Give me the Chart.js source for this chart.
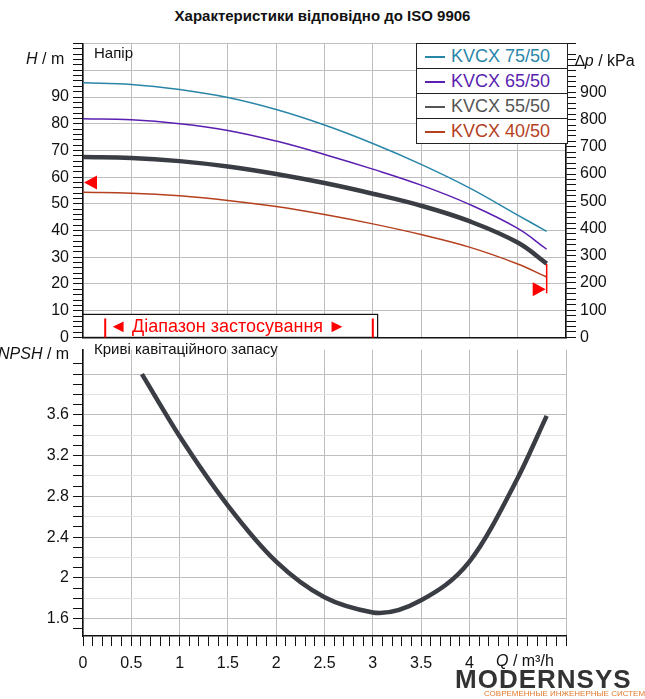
<!DOCTYPE html>
<html><head><meta charset="utf-8">
<script src="https://cdn.jsdelivr.net/npm/chart.js@4"></script>
<style>
body{margin:0;width:645px;height:699px;background:#fff;font-family:"Liberation Sans",Arial,sans-serif;position:relative;overflow:hidden}
canvas{position:absolute;left:0}
.t{position:absolute;white-space:nowrap;color:#111}
#legend{position:absolute;left:416px;top:43px;width:150px;border:1px solid #222;background:#fff}
#legend div{height:24px;border-bottom:1px solid #222;font-size:18px;line-height:24px;padding-left:8px}
#legend div:last-child{border-bottom:none}
#legend span{display:inline-block;width:20px;height:2px;vertical-align:middle;margin-right:6px}
</style></head><body>
<div class="t" style="left:0;width:645px;text-align:center;top:7px;font-size:15px;font-weight:bold">Характеристики відповідно до ISO 9906</div>
<canvas id="top" width="645" height="321" style="top:30px"></canvas>
<canvas id="bottom" width="645" height="363" style="top:336px"></canvas>
<div class="t" style="left:26px;top:50px;font-size:16px"><i>H</i> / m</div>
<div class="t" style="left:575px;top:52px;font-size:16px">∆<i>p</i> / kPa</div>
<div class="t" style="left:94px;top:44px;font-size:15px">Напір</div>
<div class="t" style="left:-2px;top:345px;font-size:16px"><i>NPSH</i> / m</div>
<div class="t" style="left:94px;top:340px;font-size:15px">Криві кавітаційного запасу</div>
<div class="t" style="left:496px;top:652px;font-size:16px"><i>Q</i> / m³/h</div>
<div class="t" style="left:455px;top:664px;font-size:26px;font-weight:bold;color:#333;letter-spacing:1px">MODERNSYS</div>
<div class="t" style="left:484px;top:689px;font-size:8px;color:#e07a2a">СОВРЕМЕННЫЕ ИНЖЕНЕРНЫЕ СИСТЕМЫ</div>
<div id="legend">
<div style="color:#2a86a8"><span style="background:#2a86a8"></span>KVCX 75/50</div>
<div style="color:#5a1fb0"><span style="background:#5a1fb0"></span>KVCX 65/50</div>
<div style="color:#555"><span style="background:#555"></span>KVCX 55/50</div>
<div style="color:#b5401e"><span style="background:#b5401e"></span>KVCX 40/50</div>
</div>
<script>
const flow = [0, 0.5, 1, 1.5, 2, 2.5, 3, 3.5, 4, 4.5, 4.8];
const headCurves = [
  { label: "KVCX 75/50", color: "#2a86a8", width: 1.5, data: [95.3, 94.7, 92.8, 89.8, 85.3, 79.5, 72.6, 64.8, 56, 45.8, 39.7] },
  { label: "KVCX 65/50", color: "#5a1fb0", width: 1.5, data: [81.9, 81.5, 80, 77.5, 73.5, 68.5, 63, 57, 49.8, 40.8, 33] },
  { label: "KVCX 55/50", color: "#3a3d44", width: 4.5, data: [67.5, 67.2, 66, 64, 61.2, 57.8, 53.8, 49.3, 43.5, 35.5, 27.6] },
  { label: "KVCX 40/50", color: "#b5401e", width: 1.5, data: [54.3, 54, 53, 51.3, 49, 46, 42.5, 38.5, 33.8, 27.5, 22.6] },
];
const npsh = [
  [0.61, 4.0], [1, 3.39], [1.5, 2.71], [2, 2.16], [2.5, 1.81], [3, 1.66], [3.07, 1.655],
  [3.5, 1.78], [4, 2.16], [4.5, 2.98], [4.8, 3.59],
];
const font = { family: "Liberation Sans, Arial", size: 16 };
const r10 = v => Math.round(v * 100) / 100;

function xScale(showLabels) {
  return {
    type: "linear", min: 0, max: 5,
    afterFit: s => { s.height = showLabels ? 63 : 0; },
    border: { color: "#111", width: 1.5 },
    ticks: {
      stepSize: 0.1, autoSkip: false, maxRotation: 0, color: "#111", font, padding: 8,
      display: showLabels,
      callback: v => { const q = r10(v); return (Math.abs(q * 2 - Math.round(q * 2)) < 1e-6 && q <= 4) ? String(q) : ""; },
    },
    grid: {
      tickLength: showLabels ? 10 : 0, tickColor: "#111", drawTicks: showLabels,
      color: c => { const q = r10(c.tick.value); if (Math.abs(q * 2 - Math.round(q * 2)) < 1e-6) return "#bdbdbd"; if (Math.abs(q * 4 - Math.round(q * 4)) < 1e-6) return "#e2e2e2"; return "rgba(0,0,0,0)"; },
    },
  };
}

const markers = {
  id: "markers",
  afterDatasetsDraw(chart) {
    const { ctx, scales: { x, y } } = chart;
    ctx.save();
    ctx.fillStyle = "#f00"; ctx.strokeStyle = "#f00"; ctx.lineWidth = 1.5;
    let py = y.getPixelForValue(58), px = x.getPixelForValue(0);
    ctx.beginPath(); ctx.moveTo(px + 1, py); ctx.lineTo(px + 14, py - 7); ctx.lineTo(px + 14, py + 7); ctx.fill();
    px = x.getPixelForValue(4.8);
    ctx.beginPath(); ctx.moveTo(px, y.getPixelForValue(27.5)); ctx.lineTo(px, y.getPixelForValue(16.5)); ctx.stroke();
    py = y.getPixelForValue(18);
    ctx.beginPath(); ctx.moveTo(px - 1, py); ctx.lineTo(px - 14, py - 7); ctx.lineTo(px - 14, py + 7); ctx.fill();
    const bx0 = x.getPixelForValue(0), bx1 = x.getPixelForValue(3.05), by0 = y.getPixelForValue(0) - 23, by1 = y.getPixelForValue(0);
    ctx.fillStyle = "#fff"; ctx.fillRect(bx0, by0, bx1 - bx0, by1 - by0);
    ctx.strokeStyle = "#111"; ctx.lineWidth = 1.2; ctx.strokeRect(bx0, by0, bx1 - bx0, by1 - by0);
    ctx.strokeStyle = "#f00"; ctx.lineWidth = 2;
    const a = x.getPixelForValue(0.23), b = x.getPixelForValue(3.0);
    ctx.beginPath(); ctx.moveTo(a, by0 + 4); ctx.lineTo(a, by1); ctx.moveTo(b, by0 + 4); ctx.lineTo(b, by1); ctx.stroke();
    ctx.fillStyle = "#f00";
    ctx.font = "18px Liberation Sans, Arial"; ctx.textBaseline = "middle";
    ctx.fillText("◄ Діапазон застосування ►", a + 4, (by0 + by1) / 2 + 1);
    ctx.restore();
  },
};

new Chart(document.getElementById("top"), {
  type: "line",
  data: {
    datasets: headCurves.map(c => ({
      label: c.label, data: flow.map((q, i) => ({ x: q, y: c.data[i] })),
      borderColor: c.color, borderWidth: c.width, pointRadius: 0, tension: 0.4, yAxisID: "y",
    })),
  },
  plugins: [markers],
  options: {
    animation: false, responsive: false, devicePixelRatio: 1,
    layout: { padding: { top: 12, bottom: 4, left: 0, right: 0 } },
    plugins: { legend: { display: false }, tooltip: { enabled: false } },
    scales: {
      x: xScale(false),
      y: {
        min: 0, max: 110, position: "left",
        afterFit: s => { s.width = 83; },
        border: { color: "#111", width: 1.5 },
        ticks: { stepSize: 2, autoSkip: false, color: "#111", font, padding: 4, callback: v => (v % 10 === 0 && v <= 90) ? String(v) : "" },
        grid: { tickLength: 10, tickColor: "#111", color: c => c.tick.value % 10 === 0 ? "#bdbdbd" : (c.tick.value % 5 === 0 ? "#e2e2e2" : "rgba(0,0,0,0)") },
      },
      y2: {
        min: 0, max: 1079, position: "right",
        afterFit: s => { s.width = 79; },
        border: { color: "#111", width: 1.5 },
        ticks: { stepSize: 20, autoSkip: false, color: "#111", font, padding: 4, callback: v => (v % 100 === 0 && v <= 900) ? String(v) : "" },
        grid: { drawOnChartArea: false, tickLength: 10, tickColor: "#111" },
      },
    },
  },
});

new Chart(document.getElementById("bottom"), {
  type: "line",
  data: {
    datasets: [{
      label: "NPSH", data: npsh.map(p => ({ x: p[0], y: p[1] })),
      borderColor: "#3a3d44", borderWidth: 4.5, pointRadius: 0, tension: 0.4, cubicInterpolationMode: "monotone",
    }],
  },
  options: {
    animation: false, responsive: false, devicePixelRatio: 1,
    layout: { padding: { top: 0, bottom: 0, left: 0, right: 79 } },
    plugins: { legend: { display: false }, tooltip: { enabled: false } },
    scales: {
      x: xScale(true),
      y: {
        min: 1.43, max: 4.24,
        afterFit: s => { s.width = 83; },
        border: { color: "#111", width: 1.5 },
        afterBuildTicks: s => { const t = []; for (let v = 1.5; v <= 4.2; v += 0.1) t.push({ value: r10(v) }); s.ticks = t; },
        ticks: { autoSkip: false, color: "#111", font, padding: 4, callback: v => { const k = Math.round(r10(v) * 10); return (k % 4 === 0 && k <= 36) ? String(r10(v)) : ""; } },
        grid: { tickLength: 10, tickColor: "#111", color: c => { const k = Math.round(r10(c.tick.value) * 10); return k % 4 === 0 ? "#bdbdbd" : (k % 2 === 0 ? "#e2e2e2" : "rgba(0,0,0,0)"); } },
      },
    },
  },
});
</script>
</body></html>
